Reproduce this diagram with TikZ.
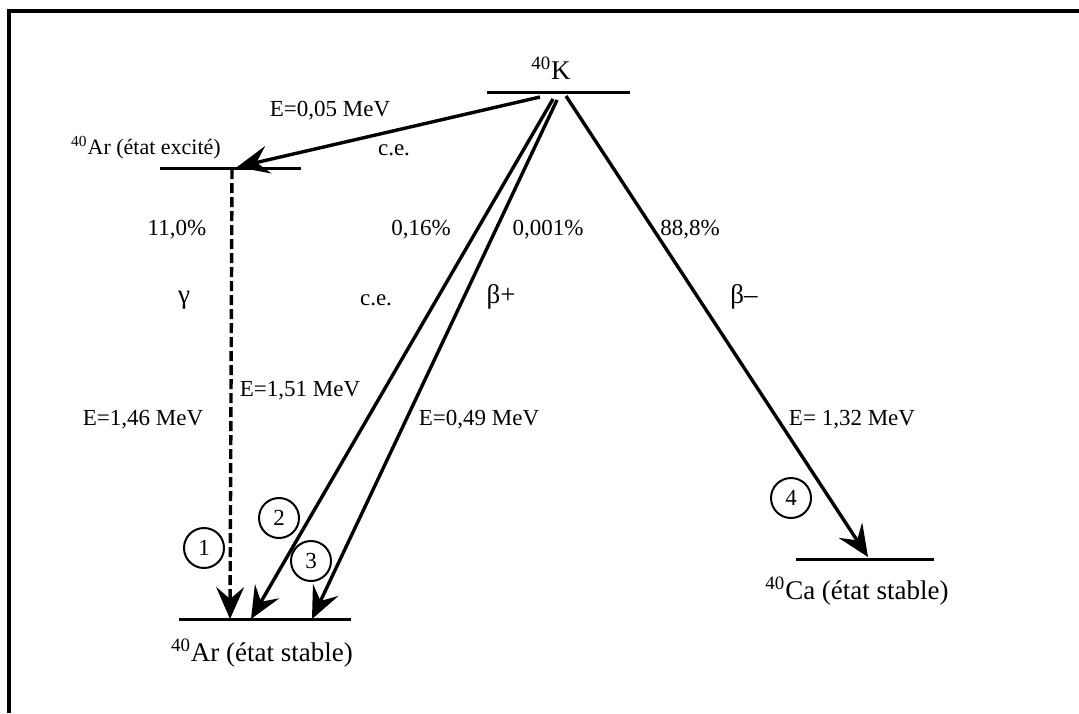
\documentclass[tikz,border=0pt]{standalone}
\usepackage{fontspec}
\setmainfont{Liberation Serif}
\usetikzlibrary{arrows.meta}
\tikzset{every node/.append style={inner sep=1pt}}
\tikzset{
  level/.style={line width=1.5pt},
  decay/.style={line width=1.7pt,-{Stealth[length=16pt,width=14pt,inset=6pt]}},
  lbl/.style={font=\fontsize{11.5}{13}\selectfont},
  big/.style={font=\fontsize{13.5}{15}\selectfont},
  num/.style={circle,draw,line width=1pt,minimum size=20pt,inner sep=0pt,font=\fontsize{11.5}{13}\selectfont}
}

\begin{document}
\begin{tikzpicture}[x=0.5pt,y=-0.5pt]
      \useasboundingbox (0,0) rectangle (1079,713);
      \draw[line width=2pt] (9,713) -- (9,11) -- (1079,11);

      % energy levels
      \draw[level] (487,92) -- (630,92);
      \draw[level] (160,168) -- (301,168);
      \draw[level] (179,619) -- (351,619);
      \draw[level] (796,559) -- (934,559);

      \node[big] at (551,68) (k40) {\textsuperscript{40}K};
      \node[font=\fontsize{11}{13}\selectfont] at (146,148) (arx) {\textsuperscript{40}Ar (état excité)};
      \node[big] at (262,653) (ar40) {\textsuperscript{40}Ar (état stable)};
      \node[big] at (857,591) (ca40) {\textsuperscript{40}Ca (état stable)};

      % end points of the transitions
      \coordinate (k1) at (540,97);
      \coordinate (k2) at (553,99);
      \coordinate (k3) at (557,100);
      \coordinate (k4) at (566,96);
      \coordinate (x0) at (237,167);
      \coordinate (x1) at (232,169);
      \coordinate (s1) at (230,619);
      \coordinate (s2) at (251,619);
      \coordinate (s3) at (312,619);
      \coordinate (c4) at (868,557);

      \draw[decay] (k1) -- (x0);
      \draw[decay,dash pattern=on 5pt off 2pt] (x1) -- (s1);
      \draw[decay] (k2) -- (s2);
      \draw[decay] (k3) -- (s3);
      \draw[decay] (k4) -- (c4);

      % labels
      \node[lbl] at (330,111) (e005) {E=0,05 MeV};
      \node[lbl] at (394,150) (ce1) {c.e.};
      \node[lbl] at (177,230) (p110) {11,0\%};
      \node[lbl] at (421,230) (p016) {0,16\%};
      \node[lbl] at (548,230) (p0001) {0,001\%};
      \node[lbl] at (690,230) (p888) {88,8\%};
      \node[big] at (184,300) (gam) {γ};
      \node[lbl] at (376,300) (ce2) {c.e.};
      \node[big] at (501,297) (bplus) {β+};
      \node[big] at (744,297) (bminus) {β–};
      \node[lbl] at (300,391) (e151) {E=1,51 MeV};
      \node[lbl] at (143,420) (e146) {E=1,46 MeV};
      \node[lbl] at (479,420) (e049) {E=0,49 MeV};
      \node[lbl] at (852,420) (e132) {E= 1,32 MeV};

      \node[num] at (204,548) (n1) {1};
      \node[num] at (279,518) (n2) {2};
      \node[num] at (311,561) (n3) {3};
      \node[num] at (791,498) (n4) {4};
    \end{tikzpicture}
\end{document}
